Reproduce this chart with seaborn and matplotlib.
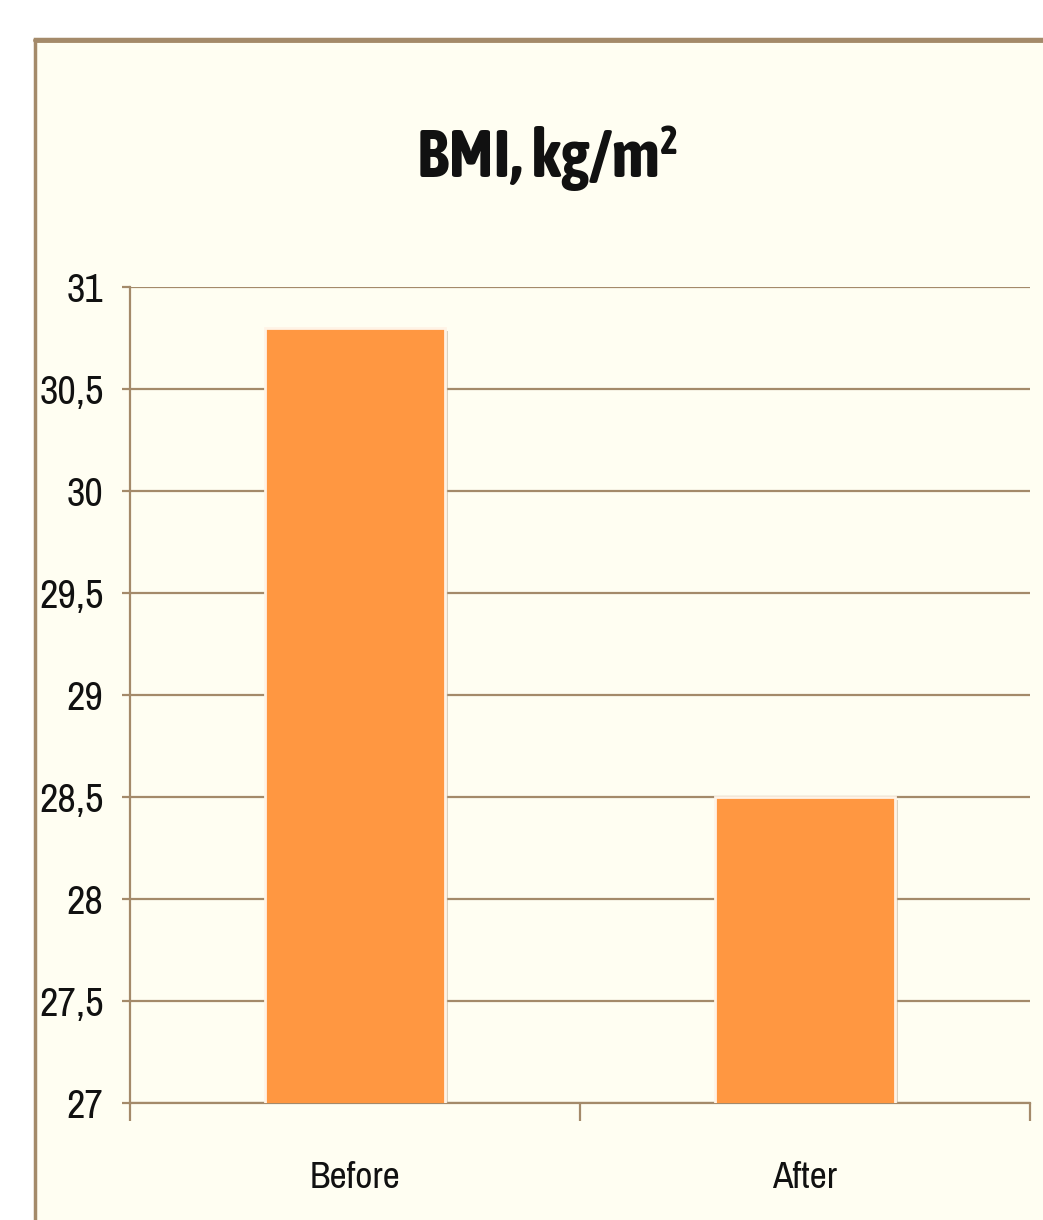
import matplotlib
matplotlib.use("Agg")
import matplotlib.pyplot as plt
import matplotlib.patches as mpatches
import matplotlib.patheffects as pe
from matplotlib import font_manager
import seaborn as sns
import pandas as pd

categories = ["Before", "After"]
bmi_values = [30.80, 28.50]
y_ticks = [27, 27.5, 28, 28.5, 29, 29.5, 30, 30.5, 31]
y_tick_labels = ["27", "27,5", "28", "28,5", "29", "29,5", "30", "30,5", "31"]
title = "BMI, kg/m²"

sns.set_theme(style="white")

# look for the most condensed face available; fall back to Lato
STRETCH = {"ultra-condensed": 100, "extra-condensed": 200, "condensed": 300,
           "semi-condensed": 400, "normal": 500}
def snum(f):
    s = f.stretch
    if isinstance(s, (int, float)):
        return int(s)
    v = STRETCH.get(str(s), 500)
    if v == 500 and ("Narrow" in f.name or "Condensed" in f.name):
        v = 300
    return v
def wnum(w):
    if isinstance(w, (int, float)):
        return int(w)
    return {"normal": 400, "regular": 400, "book": 400, "bold": 700}.get(str(w), 400)

cands = [f for f in font_manager.fontManager.ttflist if snum(f) < 500 and f.style == "normal"]
def pick(weight, target_stretch):
    best = None
    for f in cands:
        if wnum(f.weight) != weight:
            continue
        key = (abs(snum(f) - target_stretch), f.name)
        if best is None or key < best[0]:
            best = (key, f.fname)
    return best[1] if best else None

reg_path = pick(400, 200)
bold_path = pick(700, 200)
reg_fp = font_manager.FontProperties(fname=reg_path) if reg_path else font_manager.FontProperties(family="Lato")
bold_fp = font_manager.FontProperties(fname=bold_path) if bold_path else font_manager.FontProperties(family="Lato", weight="bold")
plt.rcParams["font.family"] = ["Lato", "DejaVu Sans"]

brown = "#A48A6A"
cream = "#FFFEF2"
orange = "#FF9741"

W, H = 1043, 1220
fig = plt.figure(figsize=(W / 100, H / 100), dpi=100)
fig.patch.set_facecolor("white")

# outer chart frame
frame = mpatches.Rectangle((35 / W, -0.05), 1.2, (H - 39) / H + 0.05,
                           transform=fig.transFigure, facecolor=cream,
                           edgecolor=brown, linewidth=2.5, zorder=-5)
fig.patches.append(frame)
fig.add_artist(matplotlib.lines.Line2D([35 / W, 1.0], [(H - 39.5) / H] * 2,
                                       transform=fig.transFigure, color=brown,
                                       linewidth=3.5, zorder=-4))

ax = fig.add_axes([130 / W, (H - 1103) / H, 900 / W, (1103 - 287) / H])
ax.set_zorder(2)
ax.patch.set_alpha(0)

df = pd.DataFrame({"cat": categories, "val": bmi_values})
sns.barplot(data=df, x="cat", y="val", color=orange, width=0.4, ax=ax,
            saturation=1, edgecolor="#FFF3E6", linewidth=2.0, zorder=3)
for p in ax.patches:
    p.set_path_effects([pe.SimplePatchShadow(offset=(2, -2), shadow_rgbFace="#B8A890", alpha=0.5), pe.Normal()])

ax.set_ylim(27, 31)
ax.set_xlim(-0.5, 1.5)
ax.set_yticks(y_ticks)
ax.set_yticklabels(y_tick_labels)
ax.yaxis.grid(True, color=brown, linewidth=1.6, zorder=0)
ax.set_axisbelow(True)

ax.set_xticks([0, 1])
ax.set_xticklabels(categories)
ax.set_xticks([-0.5, 0.5, 1.5], minor=True)
ax.tick_params(axis="x", which="major", length=0, pad=42, labelcolor="#111111")
ax.tick_params(axis="x", which="minor", length=13, width=1.6, color=brown, direction="out")
ax.tick_params(axis="y", length=6, width=1.6, color=brown, direction="out", pad=13,
               labelcolor="#111111")
ax.tick_params(left=True, bottom=True, which="both")
for lab in ax.get_yticklabels():
    lab.set_fontproperties(reg_fp)
    lab.set_fontsize(29)
for lab in ax.get_xticklabels():
    lab.set_fontproperties(reg_fp)
    lab.set_fontsize(27)

for side in ["top", "right"]:
    ax.spines[side].set_visible(False)
for side in ["left", "bottom"]:
    ax.spines[side].set_color(brown)
    ax.spines[side].set_linewidth(1.6)

ax.set_xlabel("")
ax.set_ylabel("")

t = fig.text(548 / W, (H - 158) / H, title, ha="center", va="center", color="#111111",
             fontproperties=bold_fp)
t.set_fontsize(48)

fig.savefig("out.png", dpi=100, facecolor="white")
